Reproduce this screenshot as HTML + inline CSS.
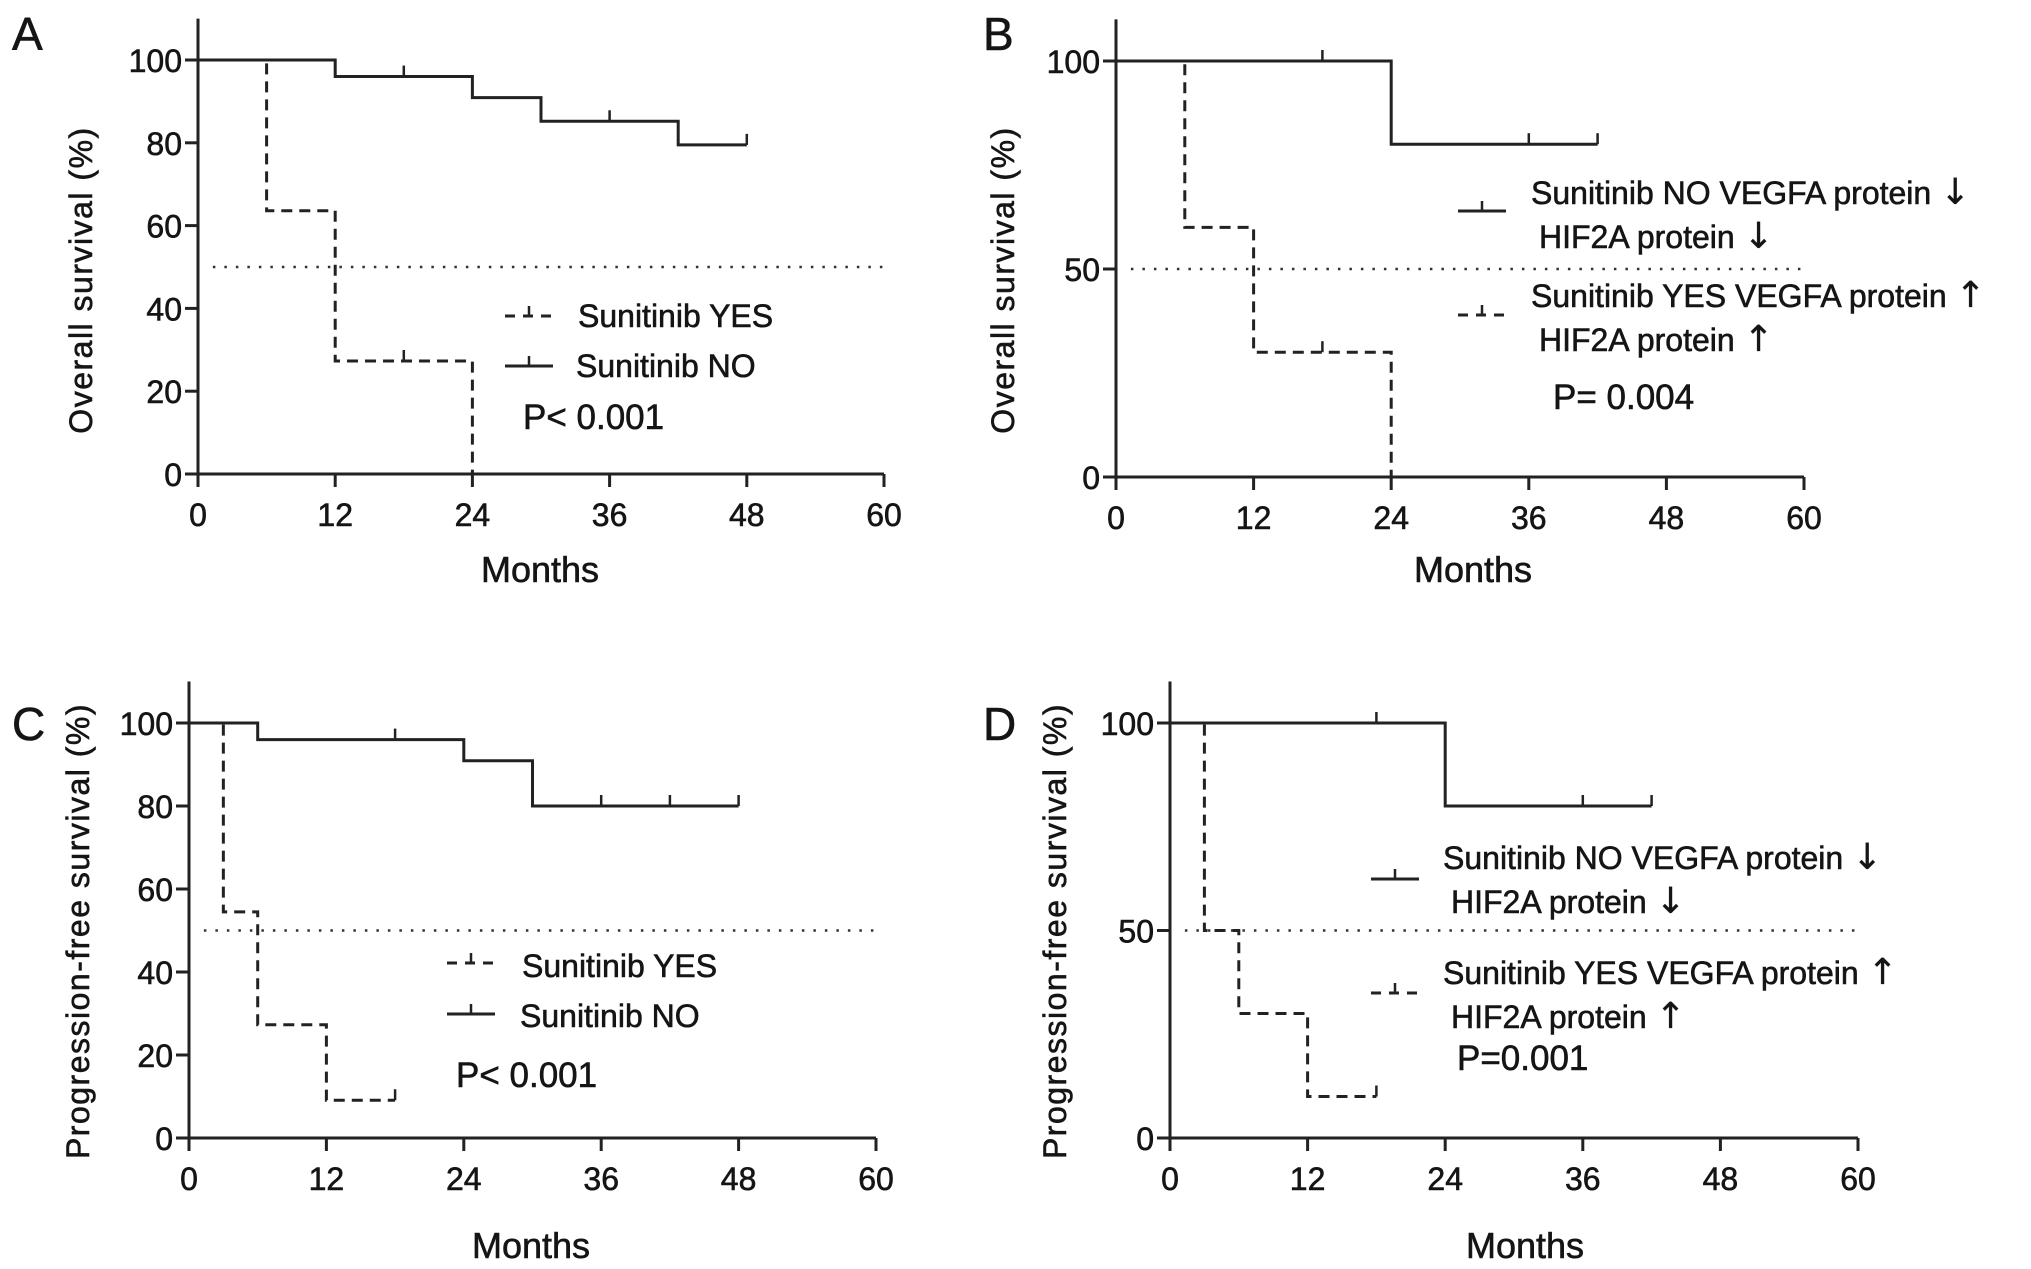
<!DOCTYPE html>
<html><head><meta charset="utf-8"><style>
html,body{margin:0;padding:0;background:#fff;}
svg text{font-family:"Liberation Sans",Arial,sans-serif;fill:#151515;stroke:#151515;stroke-width:0.6px;}
svg text tspan.arr{font-family:"DejaVu Sans",sans-serif;stroke-width:0.3px;}
</style></head><body>
<svg id="fig" width="2031" height="1264" viewBox="0 0 2031 1264" xmlns="http://www.w3.org/2000/svg"></svg>
<script>
// ---- data ----
const xTicks = [0,12,24,36,48,60];
const yTicksAC = [0,20,40,60,80,100];
const yTicksBD = [0,50,100];
// Panel A
const aYesT = [0,6,12,24];   const aYesS = [100,63.6,27.3,0]; const aYesEnd = 24; const aYesCens = [18];
const aNoT  = [0,12,24,30,42]; const aNoS = [100,96,90.9,85.2,79.5]; const aNoEnd = 48; const aNoCens = [18,36,48];
// Panel B
const bYesT = [0,6,12,24];   const bYesS = [100,60,30,0]; const bYesEnd = 24; const bYesCens = [18];
const bNoT  = [0,24];        const bNoS = [100,80]; const bNoEnd = 42; const bNoCens = [18,36,42];
// Panel C
const cYesT = [0,3,6,12];    const cYesS = [100,54.5,27.3,9.1]; const cYesEnd = 18; const cYesCens = [18];
const cNoT  = [0,6,24,30];   const cNoS = [100,96,90.9,80]; const cNoEnd = 48; const cNoCens = [18,36,42,48];
// Panel D
const dYesT = [0,3,6,12];    const dYesS = [100,50,30,10]; const dYesEnd = 18; const dYesCens = [18];
const dNoT  = [0,24];        const dNoS = [100,80]; const dNoEnd = 42; const dNoCens = [18,36,42];

const NS = "http://www.w3.org/2000/svg";
const svg = document.getElementById('fig');
function mk(tag, attrs, parent){const e=document.createElementNS(NS,tag);for(const k in attrs)e.setAttribute(k,attrs[k]);(parent||svg).appendChild(e);return e;}
function txt(s, attrs, parent){const e=mk('text',attrs,parent);e.textContent=s;return e;}

function panel(cfg){
  const g = mk('g',{});
  
  
  const X = v => cfg.x0 + (v-0)/60*(cfg.x1-cfg.x0);
  const Y = v => cfg.y0 - v/100*(cfg.y0-cfg.y100);
  const yTop = Y(110);
  const L = txt(cfg.id,{x:cfg.lx,y:cfg.ly,'font-size':46},g);
  
  
  const ax = mk('path',{d:`M${cfg.x0} ${yTop} V${cfg.y0} H${cfg.x1}`,stroke:'#222','stroke-width':3,fill:'none'},g);
  
  
  xTicks.forEach(t=>{
    const tk = mk('line',{x1:X(t),x2:X(t),y1:cfg.y0,y2:cfg.y0+13,stroke:'#222','stroke-width':3},g);
    
    
    const tl = txt(String(t),{x:X(t),y:cfg.y0+52,'font-size':32,'text-anchor':'middle'},g);
    
    
  });
  cfg.yTicks.forEach(t=>{
    const tk = mk('line',{x1:cfg.x0-13,x2:cfg.x0,y1:Y(t),y2:Y(t),stroke:'#222','stroke-width':3},g);
    
    
    const tl = txt(String(t),{x:cfg.x0-16,y:Y(t)+12,'font-size':32,'text-anchor':'end'},g);
    
    
  });
  const xt = txt('Months',{x:cfg.mx,y:cfg.my,'font-size':36,'text-anchor':'middle'},g);
  
  
  const yt = txt(cfg.ytitle,{x:0,y:0,'font-size':32,'text-anchor':'middle',transform:`translate(${cfg.tx},${cfg.ty}) rotate(-90)`,'letter-spacing':1.5},g);
  
  
  const ml = mk('line',{x1:X(1.3),x2:X(60),y1:Y(50),y2:Y(50),stroke:'#333','stroke-width':2.5,'stroke-dasharray':'2.5 9'},g);
  
  
  function curve(T,S,end,cens,dashed,name){
    let d=`M${X(T[0])} ${Y(S[0])}`;
    for(let i=1;i<T.length;i++){d+=` H${X(T[i])} V${Y(S[i])}`;}
    d+=` H${X(end)}`;
    const p = mk('path',{d:d,stroke:'#222','stroke-width':3,fill:'none','stroke-dasharray':dashed?'11 7':'none'},g);
    
    
    cens.forEach(c=>{
      let s=S[0];for(let i=0;i<T.length;i++){if(T[i]<=c)s=S[i];}
      const cm = mk('line',{x1:X(c),x2:X(c),y1:Y(s),y2:Y(s)-11,stroke:'#222','stroke-width':2.5},g);
      
      
    });
  }
  curve(cfg.noT,cfg.noS,cfg.noEnd,cfg.noCens,false,'curve-sunitinib-no');
  curve(cfg.yesT,cfg.yesS,cfg.yesEnd,cfg.yesCens,true,'curve-sunitinib-yes');
  cfg.legend.forEach(le=>{
    const lg = mk('g',{},g);
    
    
    mk('line',{x1:le.lx,x2:le.lx+48,y1:le.ly,y2:le.ly,stroke:'#222','stroke-width':3,'stroke-dasharray':le.dash?'10 8':'none'},lg);
    mk('line',{x1:le.lx+24,x2:le.lx+24,y1:le.ly,y2:le.ly-10,stroke:'#222','stroke-width':2.5},lg);
    le.lines.forEach((s,i)=>{
      const t = mk('text',{x:le.tx+(i?8:0),y:le.ty+i*44,'font-size':32},lg);
      const m = s.match(/^(.*?)([\u2191\u2193]?)$/);
      t.appendChild(document.createTextNode(m[1]));
      if(m[2]){const sp=mk('tspan',{'class':'arr','font-size':36},t);sp.textContent=m[2];}
    });
  });
  const pv = txt(cfg.p,{x:cfg.px,y:cfg.py,'font-size':35},g);
  
  
}

panel({id:'A',lx:12,ly:50,x0:198,x1:884,y0:474,y100:60,yTicks:yTicksAC,mx:540,my:582,tx:92,ty:280,ytitle:'Overall survival (%)',
  yesT:aYesT,yesS:aYesS,yesEnd:aYesEnd,yesCens:aYesCens,noT:aNoT,noS:aNoS,noEnd:aNoEnd,noCens:aNoCens,
  legend:[{lx:505,ly:316,dash:true,tx:578,ty:327,lines:['Sunitinib YES']},{lx:505,ly:366,dash:false,tx:576,ty:377,lines:['Sunitinib NO']}],
  p:'P< 0.001',px:523,py:429});
panel({id:'B',lx:983,ly:50,x0:1116,x1:1804,y0:477,y100:61,yTicks:yTicksBD,mx:1473,my:582,tx:1014,ty:280,ytitle:'Overall survival (%)',
  yesT:bYesT,yesS:bYesS,yesEnd:bYesEnd,yesCens:bYesCens,noT:bNoT,noS:bNoS,noEnd:bNoEnd,noCens:bNoCens,
  legend:[{lx:1458,ly:211,dash:false,tx:1531,ty:204,lines:['Sunitinib NO VEGFA protein \u2193','HIF2A protein \u2193']},
          {lx:1458,ly:315,dash:true,tx:1531,ty:307,lines:['Sunitinib YES VEGFA protein \u2191','HIF2A protein \u2191']}],
  p:'P= 0.004',px:1553,py:409});
panel({id:'C',lx:12,ly:740,x0:189,x1:876,y0:1138,y100:723,yTicks:yTicksAC,mx:531,my:1258,tx:89,ty:931,ytitle:'Progression-free survival (%)',
  yesT:cYesT,yesS:cYesS,yesEnd:cYesEnd,yesCens:cYesCens,noT:cNoT,noS:cNoS,noEnd:cNoEnd,noCens:cNoCens,
  legend:[{lx:447,ly:963,dash:true,tx:522,ty:977,lines:['Sunitinib YES']},{lx:447,ly:1014,dash:false,tx:520,ty:1027,lines:['Sunitinib NO']}],
  p:'P< 0.001',px:456,py:1087});
panel({id:'D',lx:983,ly:740,x0:1170,x1:1858,y0:1138,y100:723,yTicks:yTicksBD,mx:1525,my:1258,tx:1066,ty:931,ytitle:'Progression-free survival (%)',
  yesT:dYesT,yesS:dYesS,yesEnd:dYesEnd,yesCens:dYesCens,noT:dNoT,noS:dNoS,noEnd:dNoEnd,noCens:dNoCens,
  legend:[{lx:1371,ly:879,dash:false,tx:1443,ty:869,lines:['Sunitinib NO VEGFA protein \u2193','HIF2A protein \u2193']},
          {lx:1371,ly:993,dash:true,tx:1443,ty:984,lines:['Sunitinib YES VEGFA protein \u2191','HIF2A protein \u2191']}],
  p:'P=0.001',px:1457,py:1070});
</script>
</body></html>
